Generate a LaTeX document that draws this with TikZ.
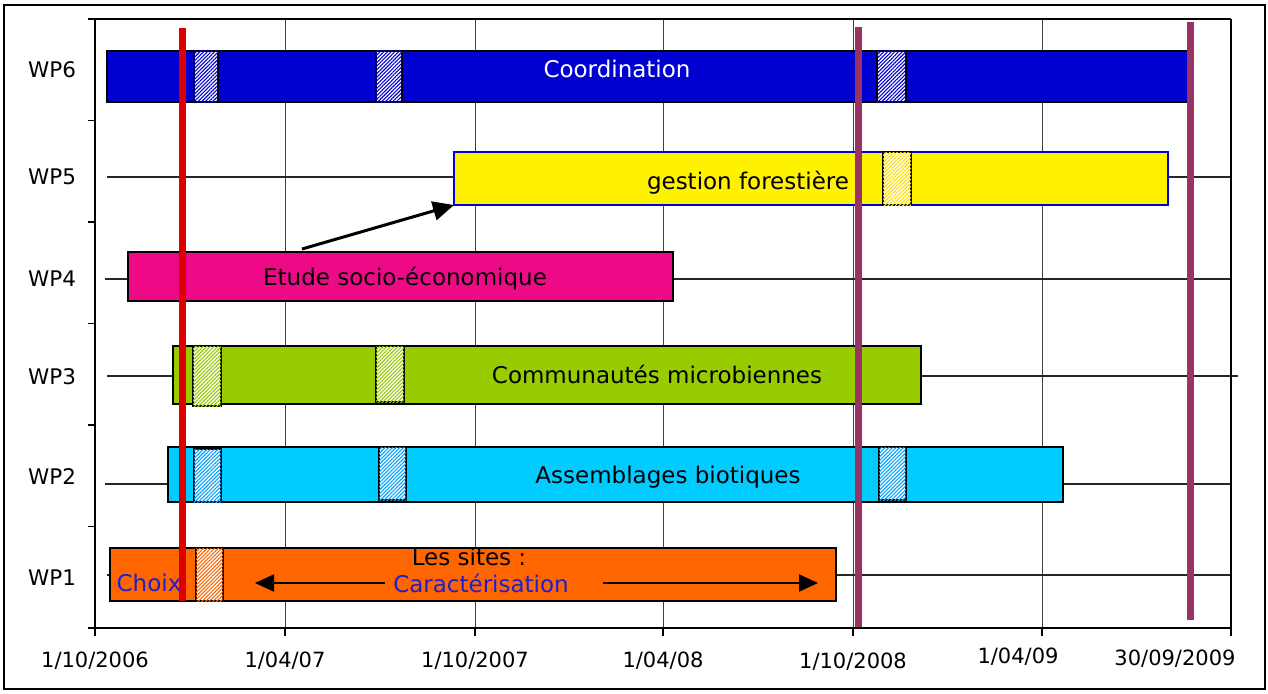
\documentclass[tikz,border=0pt]{standalone}
\usepackage{fontspec}
\setmainfont{DejaVu Sans}
\usetikzlibrary{arrows.meta,patterns.meta}
\definecolor{wpblue}{HTML}{0000D0}
\definecolor{wpyellow}{HTML}{FFF200}
\definecolor{wppink}{HTML}{EE0A86}
\definecolor{wpgreen}{HTML}{99CC00}
\definecolor{wpcyan}{HTML}{00CCFF}
\definecolor{wporange}{HTML}{FF6600}
\definecolor{mred}{HTML}{DD0000}
\definecolor{mpurple}{HTML}{993366}
\definecolor{txtblue}{HTML}{1F1FD0}
\begin{document}
\begin{tikzpicture}[x=1pt,y=-1pt,
  bar/.style={draw=black, line width=1.3pt, inner sep=0pt, outer sep=0pt, anchor=north west},
  hatchbox/.style={draw=black, line width=1.6pt, inner sep=0pt, outer sep=0pt, anchor=north west,
     fill=white, postaction={pattern={Lines[angle=45,distance=2.6pt,line width=1.1pt]}, pattern color=#1}},
  bartext/.style={font=\fontsize{23}{27}\selectfont, inner sep=0pt},
  wplabel/.style={font=\fontsize{21.5}{26}\selectfont, inner sep=0pt},
  axlabel/.style={font=\fontsize{21}{25}\selectfont, inner sep=0pt},
  grid/.style={line width=1pt, black!75},
  rowline/.style={line width=1.6pt, black!85},
  milestone/.style={line width=7pt},
  bigarrow/.style={line width=3pt, -{Triangle[length=21pt,width=19pt]}},
  smallarrow/.style={line width=2pt, -{Triangle[length=19pt,width=17pt]}}
]
\useasboundingbox (0,0) rectangle (1268,693);
% outer frame
\draw[line width=1.2pt] (4,5) rectangle (1265,689);

% vertical gridlines
\foreach \x in {285,475,663,853,1042} \draw[grid] (\x,19) -- (\x,628);
% row lines
\draw[rowline] (107,177) -- (1231,177);
\draw[rowline] (105,279) -- (1231,279);
\draw[rowline] (107,376) -- (1238,376);
\draw[rowline] (105,484) -- (1231,484);
\draw[rowline] (107,575) -- (1231,575);
% plot frame and ticks
\draw[line width=2.5pt] (95,628) -- (95,19) -- (1231,19);
\draw[line width=1.5pt] (1231,19) -- (1231,628);
\draw[line width=2.5pt] (95,628) -- (1231,628);
\foreach \y in {19,120.5,222,323.5,425,526.5,628} \draw[line width=1.2pt] (88,\y) -- (95,\y);
\foreach \x in {95,285,475,663,853,1042,1231} \draw[line width=1.2pt] (\x,628) -- (\x,636);

% bars
\node[bar, fill=wpblue, minimum width=1082pt, minimum height=51pt] (wp6) at (107,51) {};
\node[bar, fill=wpyellow, draw=blue!85!black, minimum width=714pt, minimum height=53pt] (wp5) at (454,152) {};
\node[bar, fill=wppink, minimum width=545pt, minimum height=49pt] (wp4) at (128,252) {};
\node[bar, fill=wpgreen, minimum width=748pt, minimum height=58pt] (wp3) at (173,346) {};
\node[bar, fill=wpcyan, minimum width=895pt, minimum height=55pt] (wp2) at (168,447) {};
\node[bar, fill=wporange, minimum width=726pt, minimum height=53pt] (wp1) at (110,548) {};

% hatched boxes
\node[hatchbox=wpblue, minimum width=24pt, minimum height=51pt] (h6a) at (194,51) {};
\node[hatchbox=wpblue, minimum width=26pt, minimum height=51pt] (h6b) at (376,51) {};
\node[hatchbox=wpblue, minimum width=29pt, minimum height=51pt] (h6c) at (877,51) {};
\node[hatchbox=wpyellow!85!orange, minimum width=28pt, minimum height=53pt] (h5a) at (883,152) {};
\node[hatchbox=wpgreen, minimum width=28pt, minimum height=60pt] (h3a) at (193,346) {};
\node[hatchbox=wpgreen, minimum width=28pt, minimum height=56pt] (h3b) at (376,346) {};
\node[hatchbox=wpcyan!80!blue, minimum width=27pt, minimum height=53pt] (h2a) at (194,449) {};
\node[hatchbox=wpcyan!80!blue, minimum width=27pt, minimum height=53pt] (h2b) at (379,447) {};
\node[hatchbox=wpcyan!80!blue, minimum width=27pt, minimum height=53pt] (h2c) at (879,447) {};
\node[hatchbox=wporange, minimum width=27pt, minimum height=53pt] (h1a) at (196,548) {};

% bar texts
\node[bartext, text=white] (t6) at (617,69) {Coordination};
\node[bartext] (t5) at (748,183) {gestion forestière};
\node[bartext] (t4) at (405,279) {Etude socio-économique};
\node[bartext] (t3) at (657,374) {Communautés microbiennes};
\node[bartext] (t2) at (668,477) {Assemblages biotiques};
\node[bartext] (t1) at (469,557) {Les sites :};
\node[bartext, text=txtblue] (choix) at (149,583) {Choix};
\node[bartext, text=txtblue] (carac) at (481,583) {Caractérisation};

% arrows
\coordinate (a4) at (302,249);
\draw[bigarrow] (a4) -- (wp5.south west);
\coordinate (cl) at (385,583);
\coordinate (cle) at (255,583);
\coordinate (cr) at (603,583);
\coordinate (cre) at (818,583);
\draw[smallarrow] (cl) -- (cle);
\draw[smallarrow] (cr) -- (cre);

% milestone lines
\coordinate (r1) at (182,28); \coordinate (r2) at (182,601);
\draw[milestone, mred] (r1) -- (r2);
\coordinate (p1) at (858,27); \coordinate (p2) at (858,627);
\draw[milestone, mpurple] (p1) -- (p2);
\coordinate (q1) at (1190,22); \coordinate (q2) at (1190,620);
\draw[milestone, mpurple] (q1) -- (q2);

% WP labels
\node[wplabel] (l6) at (52,70) {WP6};
\node[wplabel] (l5) at (52,177) {WP5};
\node[wplabel] (l4) at (52,279) {WP4};
\node[wplabel] (l3) at (52,377) {WP3};
\node[wplabel] (l2) at (52,477) {WP2};
\node[wplabel] (l1) at (52,578) {WP1};

% axis labels
\node[axlabel] (d1) at (95,661) {1/10/2006};
\node[axlabel] (d2) at (285,661) {1/04/07};
\node[axlabel] (d3) at (475,661) {1/10/2007};
\node[axlabel] (d4) at (663,661) {1/04/08};
\node[axlabel] (d5) at (853,662) {1/10/2008};
\node[axlabel] (d6) at (1018,657) {1/04/09};
\node[axlabel] (d7) at (1175,659) {30/09/2009};
\end{tikzpicture}
\end{document}
